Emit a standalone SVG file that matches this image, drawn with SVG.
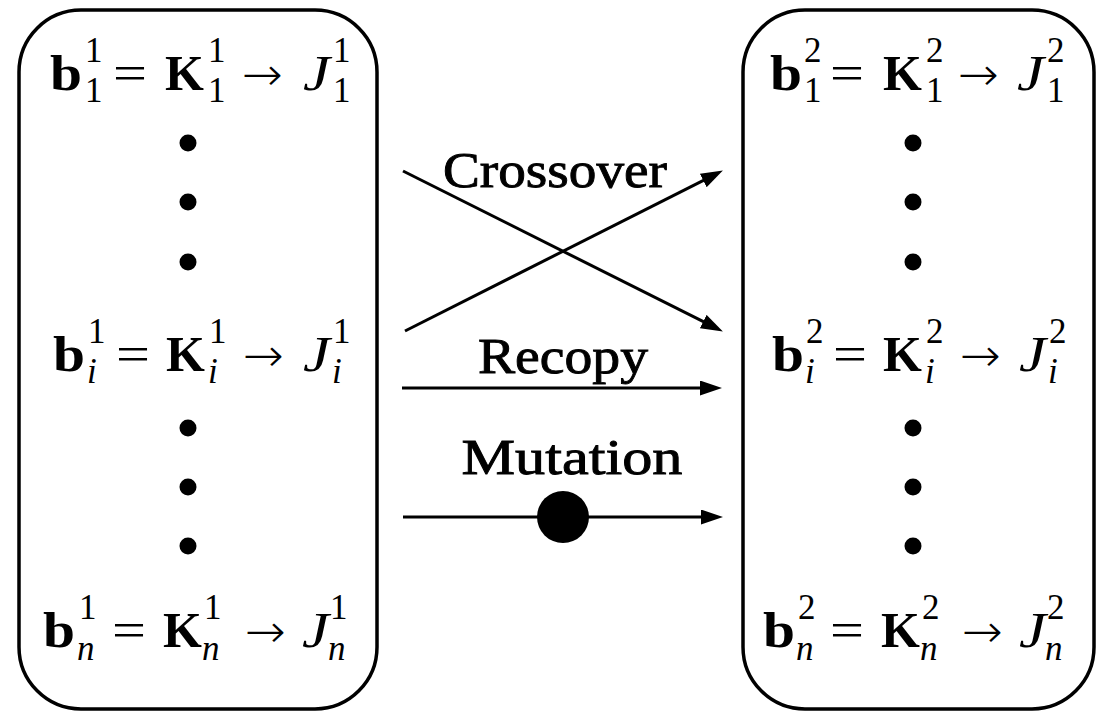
<svg xmlns="http://www.w3.org/2000/svg" width="1097" height="712" viewBox="0 0 1097 712">
<style>
.box{fill:#fff;stroke:#000;stroke-width:3.5}
.m{font-family:"Liberation Serif",serif;font-size:50px;fill:#000}
.bf{font-weight:bold}
.it{font-style:italic}
.ar{font-family:"DejaVu Sans",sans-serif;font-size:46px;font-weight:200;fill:#000}
.s{font-family:"Liberation Serif",serif;font-size:35px;fill:#000}
.lbl{font-family:"Liberation Serif",serif;font-size:50px;fill:#000;stroke:#000;stroke-width:0.9;text-anchor:middle}
.ln{stroke:#000;stroke-width:3;fill:none}
.dot{fill:#000}
</style>
<defs>
<marker id="ah" markerUnits="userSpaceOnUse" markerWidth="24" markerHeight="16" refX="13" refY="7.5" orient="auto">
<path d="M0,0 L22,7.5 L0,15 Z" fill="#000"/>
</marker>
</defs>
<rect width="1097" height="712" fill="#fff"/>

<g id="population1">
<rect class="box" x="19" y="10" width="358" height="699" rx="62" ry="62"/>
<!-- row 1 -->
<text class="m bf" x="50" y="90" textLength="32" lengthAdjust="spacingAndGlyphs">b</text>
<text class="s" x="85" y="62">1</text><text class="s" x="85" y="102">1</text>
<text class="m" x="113" y="90" textLength="34" lengthAdjust="spacingAndGlyphs">=</text>
<text class="m bf" x="165" y="90">K</text>
<text class="s" x="208" y="62">1</text><text class="s" x="208" y="102">1</text>
<text class="ar" x="242" y="90" textLength="41" lengthAdjust="spacingAndGlyphs">→</text>
<text class="m it" x="303" y="90" textLength="27" lengthAdjust="spacingAndGlyphs">J</text>
<text class="s" x="333" y="62">1</text><text class="s" x="333" y="102">1</text>
<circle class="dot" cx="188" cy="143" r="8.5"/>
<circle class="dot" cx="188" cy="202" r="8.5"/>
<circle class="dot" cx="188" cy="262" r="8.5"/>
<!-- row i -->
<text class="m bf" x="53" y="371" textLength="32" lengthAdjust="spacingAndGlyphs">b</text>
<text class="s" x="88" y="343">1</text><text class="s it" x="87" y="383">i</text>
<text class="m" x="116" y="371" textLength="34" lengthAdjust="spacingAndGlyphs">=</text>
<text class="m bf" x="166" y="371">K</text>
<text class="s" x="209" y="343">1</text><text class="s it" x="208" y="383">i</text>
<text class="ar" x="243" y="371" textLength="41" lengthAdjust="spacingAndGlyphs">→</text>
<text class="m it" x="303" y="371" textLength="27" lengthAdjust="spacingAndGlyphs">J</text>
<text class="s" x="333" y="343">1</text><text class="s it" x="332" y="383">i</text>
<circle class="dot" cx="188" cy="428" r="8.5"/>
<circle class="dot" cx="188" cy="487" r="8.5"/>
<circle class="dot" cx="188" cy="546" r="8.5"/>
<!-- row n -->
<text class="m bf" x="43" y="647" textLength="32" lengthAdjust="spacingAndGlyphs">b</text>
<text class="s" x="79" y="619">1</text><text class="s it" x="77" y="660">n</text>
<text class="m" x="112" y="647" textLength="34" lengthAdjust="spacingAndGlyphs">=</text>
<text class="m bf" x="163" y="647">K</text>
<text class="s" x="204" y="619">1</text><text class="s it" x="202" y="660">n</text>
<text class="ar" x="245" y="647" textLength="41" lengthAdjust="spacingAndGlyphs">→</text>
<text class="m it" x="302" y="647" textLength="27" lengthAdjust="spacingAndGlyphs">J</text>
<text class="s" x="330" y="619">1</text><text class="s it" x="328" y="660">n</text>
</g>

<g id="population2">
<rect class="box" x="743" y="10" width="351" height="699" rx="62" ry="62"/>
<!-- row 1 -->
<text class="m bf" x="770" y="90" textLength="32" lengthAdjust="spacingAndGlyphs">b</text>
<text class="s" x="804" y="62">2</text><text class="s" x="804" y="102">1</text>
<text class="m" x="830" y="90" textLength="34" lengthAdjust="spacingAndGlyphs">=</text>
<text class="m bf" x="883" y="90">K</text>
<text class="s" x="926" y="62">2</text><text class="s" x="926" y="102">1</text>
<text class="ar" x="958" y="90" textLength="41" lengthAdjust="spacingAndGlyphs">→</text>
<text class="m it" x="1017" y="90" textLength="27" lengthAdjust="spacingAndGlyphs">J</text>
<text class="s" x="1047" y="62">2</text><text class="s" x="1047" y="102">1</text>
<circle class="dot" cx="913" cy="143" r="8.5"/>
<circle class="dot" cx="913" cy="202" r="8.5"/>
<circle class="dot" cx="913" cy="262" r="8.5"/>
<!-- row i -->
<text class="m bf" x="772" y="371" textLength="32" lengthAdjust="spacingAndGlyphs">b</text>
<text class="s" x="806" y="343">2</text><text class="s it" x="805" y="383">i</text>
<text class="m" x="833" y="371" textLength="34" lengthAdjust="spacingAndGlyphs">=</text>
<text class="m bf" x="883" y="371">K</text>
<text class="s" x="926" y="343">2</text><text class="s it" x="925" y="383">i</text>
<text class="ar" x="960" y="371" textLength="41" lengthAdjust="spacingAndGlyphs">→</text>
<text class="m it" x="1019" y="371" textLength="27" lengthAdjust="spacingAndGlyphs">J</text>
<text class="s" x="1049" y="343">2</text><text class="s it" x="1048" y="383">i</text>
<circle class="dot" cx="913" cy="428" r="8.5"/>
<circle class="dot" cx="913" cy="487" r="8.5"/>
<circle class="dot" cx="913" cy="546" r="8.5"/>
<!-- row n -->
<text class="m bf" x="763" y="647" textLength="32" lengthAdjust="spacingAndGlyphs">b</text>
<text class="s" x="798" y="619">2</text><text class="s it" x="796" y="660">n</text>
<text class="m" x="830" y="647" textLength="34" lengthAdjust="spacingAndGlyphs">=</text>
<text class="m bf" x="881" y="647">K</text>
<text class="s" x="922" y="619">2</text><text class="s it" x="920" y="660">n</text>
<text class="ar" x="962" y="647" textLength="41" lengthAdjust="spacingAndGlyphs">→</text>
<text class="m it" x="1019" y="647" textLength="27" lengthAdjust="spacingAndGlyphs">J</text>
<text class="s" x="1047" y="619">2</text><text class="s it" x="1045" y="660">n</text>
</g>

<g id="connectors">
<line class="ln" x1="403" y1="171" x2="714.85" y2="327.41" marker-end="url(#ah)"/>
<line class="ln" x1="405" y1="331" x2="714.86" y2="174.6" marker-end="url(#ah)"/>
<text class="lbl" x="555" y="187" textLength="224" lengthAdjust="spacingAndGlyphs">Crossover</text>
<line class="ln" x1="402" y1="388" x2="713" y2="388" marker-end="url(#ah)"/>
<text class="lbl" x="563" y="373" textLength="170" lengthAdjust="spacingAndGlyphs">Recopy</text>
<line class="ln" x1="403" y1="517" x2="714" y2="517" marker-end="url(#ah)"/>
<circle cx="563" cy="517" r="26" fill="#000"/>
<text class="lbl" x="572" y="474" textLength="221" lengthAdjust="spacingAndGlyphs">Mutation</text>
</g>
</svg>
